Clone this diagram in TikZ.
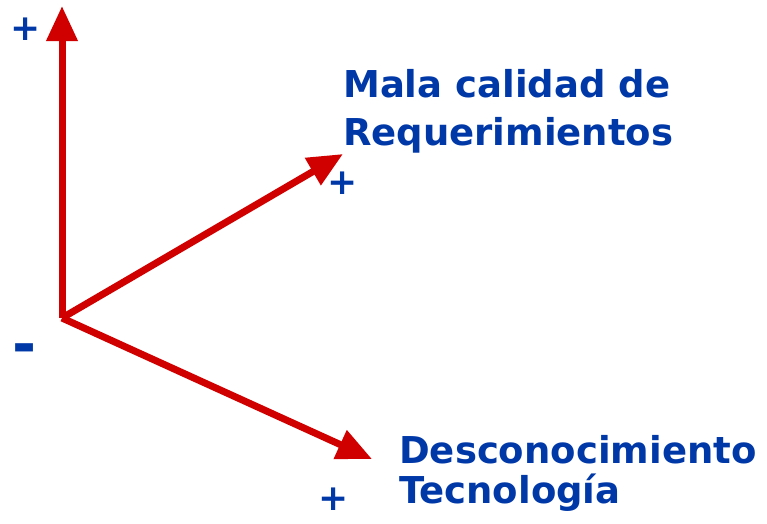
\documentclass[tikz,border=0pt]{standalone}
\usepackage{fontspec}
\setmainfont{DejaVu Sans}
\usetikzlibrary{arrows.meta}
\definecolor{axisred}{RGB}{208,0,0}
\definecolor{labelblue}{RGB}{0,56,168}
\begin{document}
\begin{tikzpicture}[x=1pt,y=-1pt,
  axis/.style={draw=axisred,line width=7pt,-{Triangle[length=35pt,width=30pt]}},
  label/.style={text=labelblue,font=\bfseries\fontsize{37}{37}\selectfont,inner sep=0pt,anchor=base west},
  sign/.style={text=labelblue,font=\bfseries\fontsize{36}{36}\selectfont,inner sep=0pt},
  minussign/.style={text=labelblue,font=\bfseries\fontsize{58}{58}\selectfont,inner sep=0pt}]
\useasboundingbox (0,0) rectangle (767,523);
\coordinate (o) at (62,318);
\coordinate (top) at (62,6);
\coordinate (upper) at (343,154);
\coordinate (lower) at (372,459);
\draw[axis] (o) -- (top);
\draw[axis] (o) -- (upper);
\draw[axis] (o) -- (lower);
\node[label] (req1) at (343,97) {Mala calidad de};
\node[label] (req2) at (343,145) {Requerimientos};
\node[label] (tec1) at (399,463) {Desconocimiento};
\node[label] (tec2) at (399,503) {Tecnología};
\node[sign] (ptop) at (25.5,29) {+};
\node[sign] (pupper) at (343,183) {+};
\node[sign] (plower) at (334,499) {+};
\node[minussign] (minus) at (25,354) {-};
\end{tikzpicture}
\end{document}
